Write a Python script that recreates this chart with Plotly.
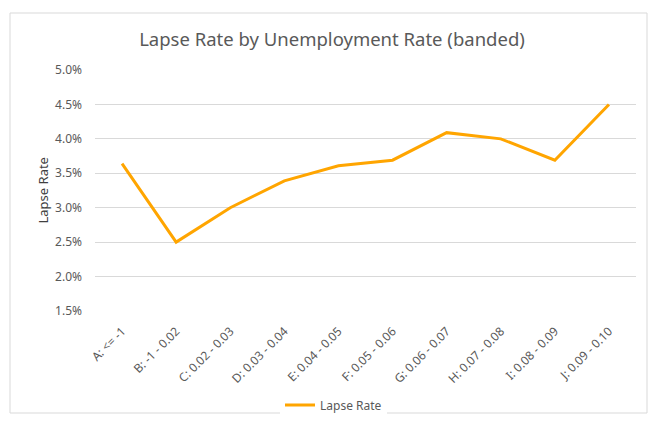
import plotly.graph_objects as go

categories = ["A: <= -1", "B: -1 - 0.02", "C: 0.02 - 0.03", "D: 0.03 - 0.04", "E: 0.04 - 0.05",
              "F: 0.05 - 0.06", "G: 0.06 - 0.07", "H: 0.07 - 0.08", "I: 0.08 - 0.09", "J: 0.09 - 0.10"]
lapse_rate = [0.0364, 0.0250, 0.0300, 0.0339, 0.0361, 0.0369, 0.0409, 0.0400, 0.0369, 0.0450]
y_ticks = [0.015, 0.020, 0.025, 0.030, 0.035, 0.040, 0.045, 0.050]

W, H = 654, 421
L, R, T, B = 95, 18, 70, 110
pw, ph = W - L - R, H - T - B

font = "Noto Sans"
grey = "#595959"

fig = go.Figure()
fig.add_trace(go.Scatter(x=categories, y=lapse_rate, mode="lines", name="Lapse Rate",
                         line=dict(color="#FFA500", width=3)))

def px(x):
    return (x - L) / pw

def py(y):
    return (H - B - y) / ph

fig.update_layout(
    width=W, height=H,
    margin=dict(l=L, r=R, t=T, b=B, autoexpand=False),
    paper_bgcolor="white", plot_bgcolor="white",
    title=dict(text="Lapse Rate by Unemployment Rate (banded)", x=332 / W, xref="container",
               xanchor="center", y=1 - 40 / H, yanchor="middle",
               font=dict(family=font, size=18.5, color=grey)),
    font=dict(family=font, color=grey),
    showlegend=True,
    legend=dict(orientation="h", x=px(280), xanchor="left", y=py(405), yanchor="middle",
                font=dict(family=font, size=12, color=grey)),
    xaxis=dict(type="category", tickangle=-45, showgrid=False, showline=False, ticks="",
               automargin=False, ticklabelstandoff=10,
               tickfont=dict(family=font, size=12, color=grey), range=[-0.5, 9.5]),
    yaxis=dict(range=[0.015, 0.050], tickvals=y_ticks, tickformat=".1%", showgrid=True,
               automargin=False,
               gridcolor="#d9d9d9", gridwidth=1, zeroline=False, showline=False, ticks="",
               tickfont=dict(family=font, size=12, color=grey), ticklabelstandoff=12),
    shapes=[dict(type="rect", xref="paper", yref="paper",
                 x0=px(10), x1=px(647), y0=py(413), y1=py(13),
                 line=dict(color="#d9d9d9", width=1), fillcolor="rgba(0,0,0,0)", layer="below")],
    annotations=[dict(text="Lapse Rate", textangle=-90, xref="paper", yref="paper",
                      x=px(42), y=0.5, showarrow=False, xanchor="center", yanchor="middle",
                      font=dict(family=font, size=13, color="#404040"))],
)

fig.write_html("out.html")
